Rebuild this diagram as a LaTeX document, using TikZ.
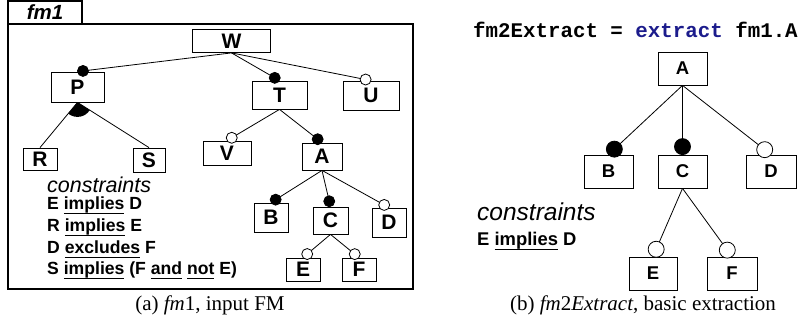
\documentclass[tikz,border=0pt]{standalone}
\usepackage{fontspec}
\setmainfont{Liberation Serif}
\setsansfont{Liberation Sans}
\setmonofont{Liberation Mono}
\usetikzlibrary{calc}
\definecolor{kwblue}{RGB}{28,28,140}
\newcommand{\myul}[1]{\begingroup\setbox0\hbox{#1}\rlap{\rule[-4pt]{\wd0}{1.3pt}}\box0\endgroup}
\newcommand{\fmlink}[4]{%
  \coordinate (#2-c) at ($(#2.north)!#3!(#1.south)$);
  \draw[conn] (#1.south) -- (#2-c);
  \draw[conn, fill=#4] (#2-c) circle (#3);}
\begin{document}
\begin{tikzpicture}[x=1pt,y=-1pt,
  conn/.style={line width=0.8pt},
  lbox/.style={draw, line width=0.8pt, inner sep=0pt, fill=white,
    font=\sffamily\bfseries\fontsize{21}{25}\selectfont},
  rbox/.style={draw, line width=0.8pt, inner sep=0pt, fill=white,
    minimum width=49pt, minimum height=33pt,
    font=\sffamily\bfseries\fontsize{18.5}{22}\selectfont},
  ctext/.style={anchor=base west, inner sep=0pt}
]
\useasboundingbox (0,0) rectangle (798,331);

% frame of fm1
\draw[line width=1.2pt] (8,24) rectangle (413,289);
\node[draw, line width=1.2pt, inner sep=0pt, minimum width=74pt, minimum height=23pt,
  font=\sffamily\bfseries\itshape\fontsize{20.5}{24}\selectfont] (tab) at (45,12.5) {fm1};

% left feature model
\node[lbox, minimum width=78pt, minimum height=23pt] (W) at (231.5,41) {W};
\node[lbox, minimum width=53pt, minimum height=30pt] (P) at (77.5,87) {P};
\node[lbox, minimum width=55pt, minimum height=28pt] (T) at (279.5,95) {T};
\node[lbox, minimum width=56pt, minimum height=29pt] (U) at (371,95.5) {U};
\node[lbox, minimum width=34pt, minimum height=22pt] (R) at (40,159) {R};
\node[lbox, minimum width=32pt, minimum height=24pt] (S) at (149,160) {S};
\node[lbox, minimum width=48pt, minimum height=24pt] (V) at (227,153) {V};
\node[lbox, minimum width=40pt, minimum height=27pt] (A) at (322,156.5) {A};
\node[lbox, minimum width=34pt, minimum height=29pt] (B) at (271,217.5) {B};
\node[lbox, minimum width=35pt, minimum height=27pt] (C) at (330.5,220.5) {C};
\node[lbox, minimum width=34pt, minimum height=29pt] (D) at (389,222.5) {D};
\node[lbox, minimum width=34pt, minimum height=23pt] (E) at (303,269.5) {E};
\node[lbox, minimum width=34pt, minimum height=23pt] (F) at (359,269.5) {F};

\fmlink{W}{P}{5.5pt}{black}
\fmlink{W}{T}{5.5pt}{black}
\fmlink{W}{U}{5.5pt}{white}
\draw[conn] (P.south) -- (R.north);
\draw[conn] (P.south) -- (S.north);
\begin{scope}
  \clip (P.south) -- ($(P.south)!4!(R.north)$) -- ($(P.south)!4!(S.north)$) -- cycle;
  \fill (P.south) circle (14.5pt);
\end{scope}
\fmlink{T}{V}{5.5pt}{white}
\fmlink{T}{A}{5.5pt}{black}
\fmlink{A}{B}{5.5pt}{black}
\fmlink{A}{C}{5.5pt}{black}
\fmlink{A}{D}{5.5pt}{white}
\fmlink{C}{E}{5.5pt}{white}
\fmlink{C}{F}{5.5pt}{white}

% constraints (left)
\node[ctext, font=\sffamily\itshape\fontsize{21.5}{25}\selectfont] (lc0) at (47,193) {constraints};
\node[ctext, font=\sffamily\bfseries\fontsize{17.6}{20}\selectfont] (lc1) at (47,210) {E \myul{implies} D};
\node[ctext, font=\sffamily\bfseries\fontsize{17.6}{20}\selectfont] (lc2) at (47,232) {R \myul{implies} E};
\node[ctext, font=\sffamily\bfseries\fontsize{17.6}{20}\selectfont] (lc3) at (47,254) {D \myul{excludes} F};
\node[ctext, font=\sffamily\bfseries\fontsize{17.6}{20}\selectfont] (lc4) at (47,275) {S \myul{implies} (F \myul{and} \myul{not} E)};

% right side
\node[ctext, font=\ttfamily\bfseries\fontsize{20.8}{24}\selectfont] (title) at (473,37.5)
  {fm2Extract = \textcolor{kwblue}{extract} fm1.A};

\node[rbox] (A2) at (682.5,68.5) {A};
\node[rbox] (B2) at (608.5,171.5) {B};
\node[rbox] (C2) at (682.5,171.5) {C};
\node[rbox, minimum width=50pt] (D2) at (771,171.5) {D};
\node[rbox, minimum width=48pt] (E2) at (653,273.5) {E};
\node[rbox, minimum width=50pt] (F2) at (732,273.5) {F};

\fmlink{A2}{B2}{8pt}{black}
\fmlink{A2}{C2}{8pt}{black}
\fmlink{A2}{D2}{8pt}{white}
\fmlink{C2}{E2}{8pt}{white}
\fmlink{C2}{F2}{8pt}{white}

\node[ctext, font=\sffamily\itshape\fontsize{24.5}{28}\selectfont] (rc0) at (477,221) {constraints};
\node[ctext, font=\sffamily\bfseries\fontsize{18.4}{21}\selectfont] (rc1) at (477,246) {E \myul{implies} D};

% captions
\node[anchor=base, inner sep=0pt, font=\fontsize{21}{25}\selectfont] (capa) at (210,310)
  {(a) \textit{fm}\/1, input FM};
\node[anchor=base, inner sep=0pt, font=\fontsize{21}{25}\selectfont] (capb) at (643,310)
  {(b) \textit{fm}\/2\textit{Extract}, basic extraction};
\end{tikzpicture}
\end{document}
